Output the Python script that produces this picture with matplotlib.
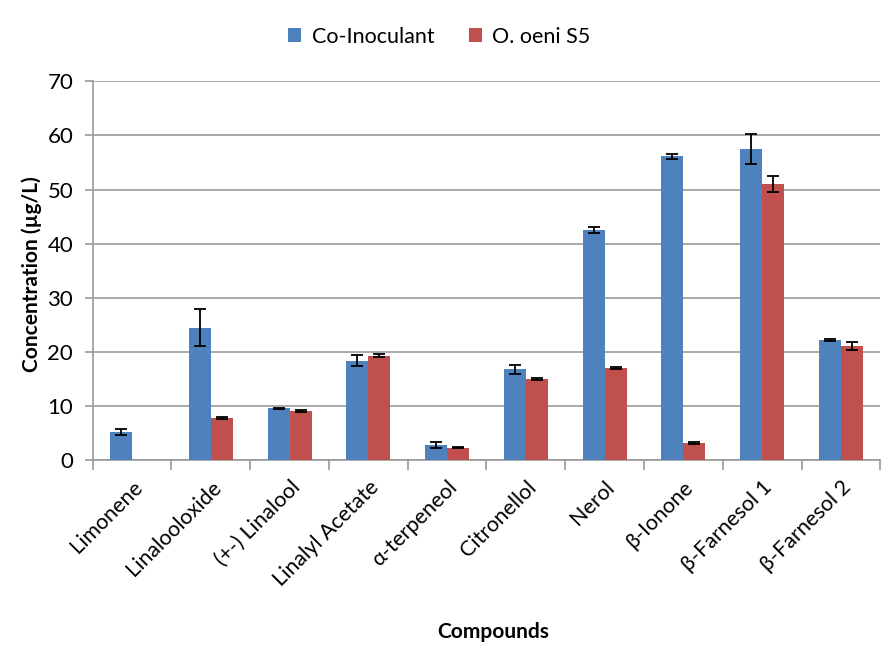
import numpy as np
import matplotlib.pyplot as plt

plt.rcParams['font.family'] = ['Lato', 'DejaVu Sans']

compounds = ['Limonene', 'Linalooloxide', '(+-) Linalool', 'Linalyl Acetate',
             'α-terpeneol', 'Citronellol', 'Nerol', 'β-Ionone',
             'β-Farnesol 1', 'β-Farnesol 2']
co_inoculant = [5.2, 24.5, 9.6, 18.4, 2.8, 16.8, 42.5, 56.1, 57.5, 22.2]
co_inoculant_err = [0.55, 3.4, 0.1, 1.0, 0.55, 0.8, 0.5, 0.5, 2.7, 0.1]
oeni_s5 = [np.nan, 7.8, 9.1, 19.3, 2.3, 15.0, 17.0, 3.2, 51.0, 21.1]
oeni_s5_err = [np.nan, 0.15, 0.15, 0.3, 0.1, 0.15, 0.15, 0.15, 1.5, 0.8]

x = np.arange(len(compounds))
w = 0.28

fig = plt.figure(figsize=(8.91, 6.5), dpi=100)
ax = fig.add_axes([0.104, 0.292, 0.884, 0.583])

err_kw = dict(ecolor='black', elinewidth=1.3, capsize=4, capthick=1.3)
ax.bar(x - w / 2, co_inoculant, w, color='#4F81BD', label='Co-Inoculant', zorder=3)
ax.bar(x + w / 2, oeni_s5, w, color='#C0504D', label='O. oeni S5', zorder=3)
ax.errorbar(x - w / 2, co_inoculant, yerr=co_inoculant_err, fmt='none', zorder=4,
            **err_kw)
ax.errorbar(x + w / 2, oeni_s5, yerr=oeni_s5_err, fmt='none', zorder=4, **err_kw)

ax.set_xlim(-0.5, len(compounds) - 0.5)
ax.set_ylim(0, 70)
ax.set_yticks(range(0, 71, 10))
ax.yaxis.grid(True, color='#9a9a9a', linewidth=1.2, zorder=0)
ax.set_axisbelow(True)

for s in ['top', 'right']:
    ax.spines[s].set_visible(False)
for s in ['left', 'bottom']:
    ax.spines[s].set_color('#9a9a9a')
    ax.spines[s].set_linewidth(1.2)

# category ticks sit between groups, labels at the group centres
ax.set_xticks(np.arange(-0.5, len(compounds), 1.0))
ax.set_xticklabels([])
ax.set_xticks(x, minor=True)
ax.set_xticklabels(compounds, minor=True, rotation=45, ha='right',
                   rotation_mode='anchor', fontsize=15.5)
ax.tick_params(axis='x', which='major', length=7, color='#9a9a9a', width=1.2)
ax.tick_params(axis='x', which='minor', length=0, pad=12)
ax.tick_params(axis='y', length=6, color='#9a9a9a', width=1.2, labelsize=16,
               pad=8)

ax.set_ylabel('Concentration (µg/L)', fontsize=15, fontweight='bold')
ax.yaxis.set_label_coords(-0.064, 0.49)
fig.text(0.553, 0.028, 'Compounds', fontsize=15, fontweight='bold',
         ha='center', va='center')

ax.legend(loc='lower center', bbox_to_anchor=(0.44, 1.04), ncol=2, frameon=False,
          fontsize=15.5, handlelength=0.6, handleheight=0.6, columnspacing=1.6,
          handletextpad=0.5)

fig.savefig('out.png', dpi=100)
